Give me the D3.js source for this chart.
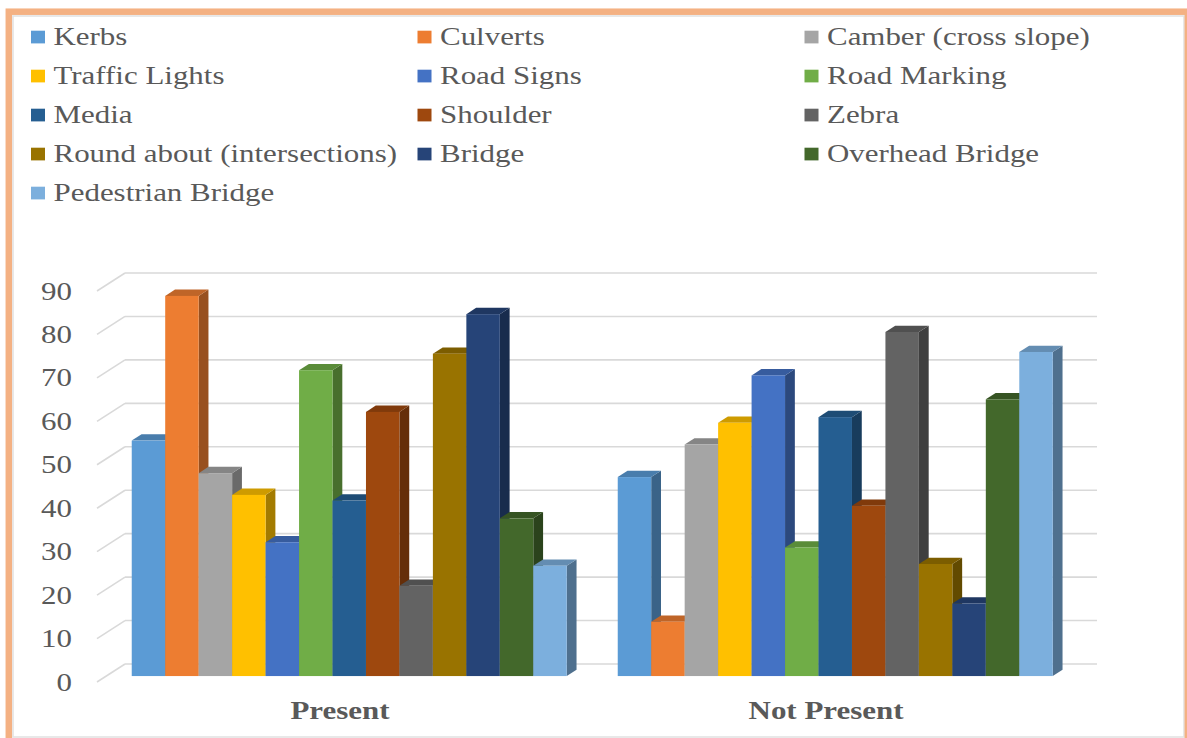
<!DOCTYPE html>
<html>
<head>
<meta charset="utf-8">
<script src="https://cdn.jsdelivr.net/npm/d3@7"></script>
<style>
  html, body { margin: 0; padding: 0; background: #ffffff; }
  svg { display: block; }
  text { font-family: "Liberation Serif", "Times New Roman", serif; }
</style>
</head>
<body>
<svg id="chart" width="1187" height="738"></svg>
<script>
// Share of roads where each feature is present / not present (%)
const categories = ["Present", "Not Present"];
const features = [
  "Kerbs", "Culverts", "Camber (cross slope)",
  "Traffic Lights", "Road Signs", "Road Marking",
  "Media", "Shoulder", "Zebra",
  "Round about (intersections)", "Bridge", "Overhead Bridge",
  "Pedestrian Bridge"
];
const presentValues    = [54.2, 87.5, 46.7, 41.7, 30.8, 70.4, 40.4, 60.8, 20.8, 74.2, 83.3, 36.3, 25.4];
const notPresentValues = [45.8, 12.5, 53.3, 58.3, 69.2, 29.6, 59.6, 39.2, 79.2, 25.8, 16.7, 63.7, 74.6];
const yTicks = [0, 10, 20, 30, 40, 50, 60, 70, 80, 90];
const colors = [
  "#5B9BD5", "#ED7D31", "#A5A5A5",
  "#FFC000", "#4472C4", "#70AD47",
  "#255E91", "#9E480E", "#636363",
  "#997300", "#264478", "#43682B",
  "#7CAFDD"
];

const svg = d3.select("#chart");
const textColor = "#595959";
const fontSize = 26;
const stretch = 1.19;

// Outer frame
svg.append("rect")
  .attr("x", 13).attr("y", 16).attr("width", 1171).attr("height", 721)
  .attr("fill", "#ffffff").attr("stroke", "#e3e3e3").attr("stroke-width", 1.6);
svg.append("rect")
  .attr("x", 8.8).attr("y", 11.7).attr("width", 1179).attr("height", 740)
  .attr("fill", "none").attr("stroke", "#F4B183").attr("stroke-width", 6.5);

// 3D geometry: front wall from x 97..1069, floor depth offset
const depthDx = 28, depthDy = -18;
const frontStart = 0.33, frontEnd = 0.68;

const x0 = d3.scaleBand().domain(categories).range([97, 1069]).paddingInner(0).paddingOuter(0);
const groupSpan = 435;
const x1 = d3.scaleBand().domain(features)
  .range([(x0.bandwidth() - groupSpan) / 2, (x0.bandwidth() + groupSpan) / 2]);
const y = d3.scaleLinear().domain([0, 90]).range([682, 291]);

// Back wall gridlines and the left wall slants
const grid = svg.append("g");
yTicks.forEach(t => {
  const yf = y(t);
  grid.append("line")
    .attr("x1", 97 + depthDx).attr("x2", 1069 + depthDx)
    .attr("y1", yf + depthDy).attr("y2", yf + depthDy)
    .attr("stroke", "#d9d9d9").attr("stroke-width", 1.6);
  grid.append("line")
    .attr("x1", 97).attr("x2", 97 + depthDx)
    .attr("y1", yf).attr("y2", yf + depthDy)
    .attr("stroke", "#d9d9d9").attr("stroke-width", 1.6);
});

// Value axis labels
svg.append("g").selectAll("text").data(yTicks).join("text")
  .attr("transform", d => `translate(72,${y(d) + 8.5}) scale(${stretch},1)`)
  .attr("text-anchor", "end")
  .attr("font-size", fontSize)
  .attr("fill", textColor)
  .text(d => d);

// Bars (drawn left to right so each front face overlaps the neighbour's side)
const series = [presentValues, notPresentValues];
const bars = svg.append("g");
categories.forEach((cat, ci) => {
  features.forEach((f, fi) => {
    const v = series[ci][fi];
    const base = d3.color(colors[fi]);
    const ox = frontStart * depthDx, oy = frontStart * depthDy;
    const bx = (frontEnd - frontStart) * depthDx, by = (frontEnd - frontStart) * depthDy;
    const xl = x0(cat) + x1(f) + ox;
    const xr = xl + x1.bandwidth();
    const yt = y(v) + oy;
    const yb = y(0) + oy;
    const g = bars.append("g");
    // side face
    g.append("path")
      .attr("d", `M${xr},${yb} L${xr + bx},${yb + by} L${xr + bx},${yt + by} L${xr},${yt} Z`)
      .attr("fill", base.darker(1.25).formatHex());
    // top face
    g.append("path")
      .attr("d", `M${xl},${yt} L${xr},${yt} L${xr + bx},${yt + by} L${xl + bx},${yt + by} Z`)
      .attr("fill", base.darker(0.6).formatHex());
    // front face
    g.append("rect")
      .attr("x", xl).attr("y", yt)
      .attr("width", x1.bandwidth()).attr("height", yb - yt)
      .attr("fill", base.formatHex());
  });
});

// Category labels
svg.append("g").selectAll("text").data(categories).join("text")
  .attr("transform", d => `translate(${x0(d) + x0.bandwidth() / 2},719) scale(${stretch},1)`)
  .attr("text-anchor", "middle")
  .attr("font-size", fontSize)
  .attr("font-weight", "bold")
  .attr("fill", textColor)
  .text(d => d);

// Legend: three columns, row-major order
const legendCols = [31, 417.5, 804.5];
const legendRow0 = 45, legendRowStep = 39;
const legend = svg.append("g");
features.forEach((f, i) => {
  const cx = legendCols[i % 3];
  const by = legendRow0 + Math.floor(i / 3) * legendRowStep;
  legend.append("rect")
    .attr("x", cx).attr("y", by - 14.3)
    .attr("width", 14).attr("height", 12.7)
    .attr("fill", colors[i]);
  legend.append("text")
    .attr("transform", `translate(${cx + 22.5},${by}) scale(${stretch},1)`)
    .attr("font-size", fontSize)
    .attr("fill", textColor)
    .text(f);
});
</script>
</body>
</html>
